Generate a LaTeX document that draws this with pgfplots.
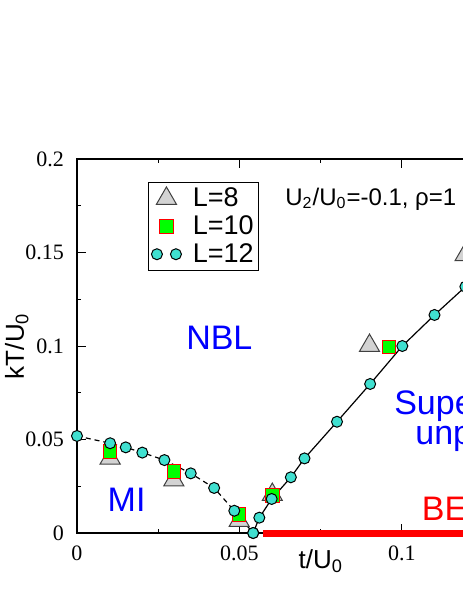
\documentclass[border=0pt]{standalone}
\usepackage{fontspec}
\setmainfont{Liberation Serif}
\setsansfont{Liberation Sans}
\usepackage{pgfplots}
\pgfplotsset{compat=1.18}
\definecolor{turq}{RGB}{64,224,208}
\definecolor{lgray}{RGB}{211,211,211}
\pgfplotsset{
  onemark legend/.style={legend image code/.code={\draw[##1] plot coordinates {(4.75pt,0pt)};\path[draw=none,fill=none] (0pt,0pt) (17pt,0pt);}},
  twomark legend/.style={legend image code/.code={\draw[##1, only marks] plot coordinates {(0pt,0pt) (9.5pt,0pt)};\path[draw=none,fill=none] (0pt,0pt) (17pt,0pt);}},
}
\begin{document}
\begin{tikzpicture}
\begin{axis}[
  scale only axis, width=203.125pt, height=187pt,
  xmin=0, xmax=0.125, ymin=0, ymax=0.2,
  clip=false,
  axis line style={line width=1.3pt},
  xtick={0,0.05,0.1}, xticklabels={0,0.05,0.1},
  ytick={0,0.05,0.1,0.15,0.2}, yticklabels={0,0.05,0.1,0.15,0.2},
  minor xtick={0.025,0.075,0.125}, minor ytick={0.025,0.075,0.125,0.175},
  major tick length=4.3pt, minor tick length=2.2pt,
  tick style={line width=0.5pt, black},
  tick align=inside,
  scaled ticks=false,
  /pgf/number format/assume math mode=true,
  tick label style={font=\fontsize{11}{13}\selectfont},
  xticklabel style={yshift=-3pt},
  yticklabel style={xshift=-3pt},
  xlabel={t/U\textsubscript{0}}, ylabel={kT/U\textsubscript{0}},
  label style={font=\sffamily\fontsize{13}{15}\selectfont},
  xlabel style={at={(axis description cs:0.6,0)}, anchor=base, yshift=-17.5pt},
  ylabel style={at={(axis description cs:-0.1305,0.5)}, anchor=base},
  legend style={at={(axis cs:0.0218,0.1877)}, anchor=north west, draw=black, line width=0.6pt,
    font=\sffamily\fontsize{13.5}{14}\selectfont, inner sep=1.5pt, row sep=1pt,
    nodes={inner sep=1pt}},
  legend cell align=left,
]
\addplot[red, line width=3.5pt, forget plot] coordinates {(0.0573,0) (0.125,0)};

\addplot[only marks, mark=triangle*, mark size=5.8pt,
  mark options={fill=lgray, draw=black!75, line width=0.5pt}, onemark legend]
  coordinates {(0.0102,0.0400) (0.0298,0.0283) (0.0499,0.0066) (0.0601,0.0205) (0.0900,0.1002) (0.1194,0.1487)};
\addlegendentry{L=8}

\addplot[only marks, mark=square*, mark size=3.35pt,
  mark options={fill=green, draw=red, line width=0.5pt}, onemark legend]
  coordinates {(0.0102,0.0435) (0.0298,0.0328) (0.0499,0.0100) (0.0601,0.0200) (0.0960,0.0996)};
\addlegendentry{L=10}

\addplot[black, line width=0.6pt, dash pattern=on 2.5pt off 2pt, mark=*, mark size=2.75pt,
  mark options={solid, fill=turq, draw=black, line width=0.5pt}, twomark legend]
  coordinates {(0,0.0519) (0.0102,0.0480) (0.0150,0.0458) (0.0201,0.0430) (0.0269,0.0390) (0.0350,0.0319) (0.0422,0.0241) (0.0484,0.0119) (0.0542,0)};
\addlegendentry{L=12}

\addplot[black, line width=0.6pt, mark=*, mark size=2.75pt,
  mark options={fill=turq, draw=black, line width=0.5pt}, forget plot]
  coordinates {(0.0542,0) (0.0561,0.0082) (0.0599,0.0182) (0.0658,0.0298) (0.0700,0.0399) (0.0800,0.0595) (0.0902,0.0797) (0.1001,0.1000) (0.1100,0.1166) (0.1195,0.1317) (0.1295,0.1470)};

\node[anchor=base west, font=\sffamily\fontsize{17}{17}\selectfont, text=blue, inner sep=0] at (axis cs:0.0335,0.0982) {NBL};
\node[anchor=base west, font=\sffamily\fontsize{17}{17}\selectfont, text=blue, inner sep=0] at (axis cs:0.00933,0.0114) {MI};
\node[anchor=base west, font=\sffamily\fontsize{17}{17}\selectfont, text=blue, inner sep=0] at (axis cs:0.0975,0.0636) {Superfluid};
\node[anchor=base west, font=\sffamily\fontsize{17}{17}\selectfont, text=blue, inner sep=0] at (axis cs:0.104,0.0471) {unpaired};
\node[anchor=base west, font=\sffamily\fontsize{17}{17}\selectfont, text=red, inner sep=0] at (axis cs:0.106,0.00695) {BEC};
\node[anchor=base west, font=\sffamily\fontsize{12}{12}\selectfont, inner sep=0] at (axis cs:0.064,0.1754) {U\textsubscript{2}/U\textsubscript{0}=-0.1, ρ=1};
\coordinate (bbsw) at (axis cs:-0.02369,-0.03529);
\coordinate (bbne) at (axis cs:0.11877,0.28503);
\end{axis}
\pgfresetboundingbox
\useasboundingbox (bbsw) rectangle (bbne);
\end{tikzpicture}
\end{document}
